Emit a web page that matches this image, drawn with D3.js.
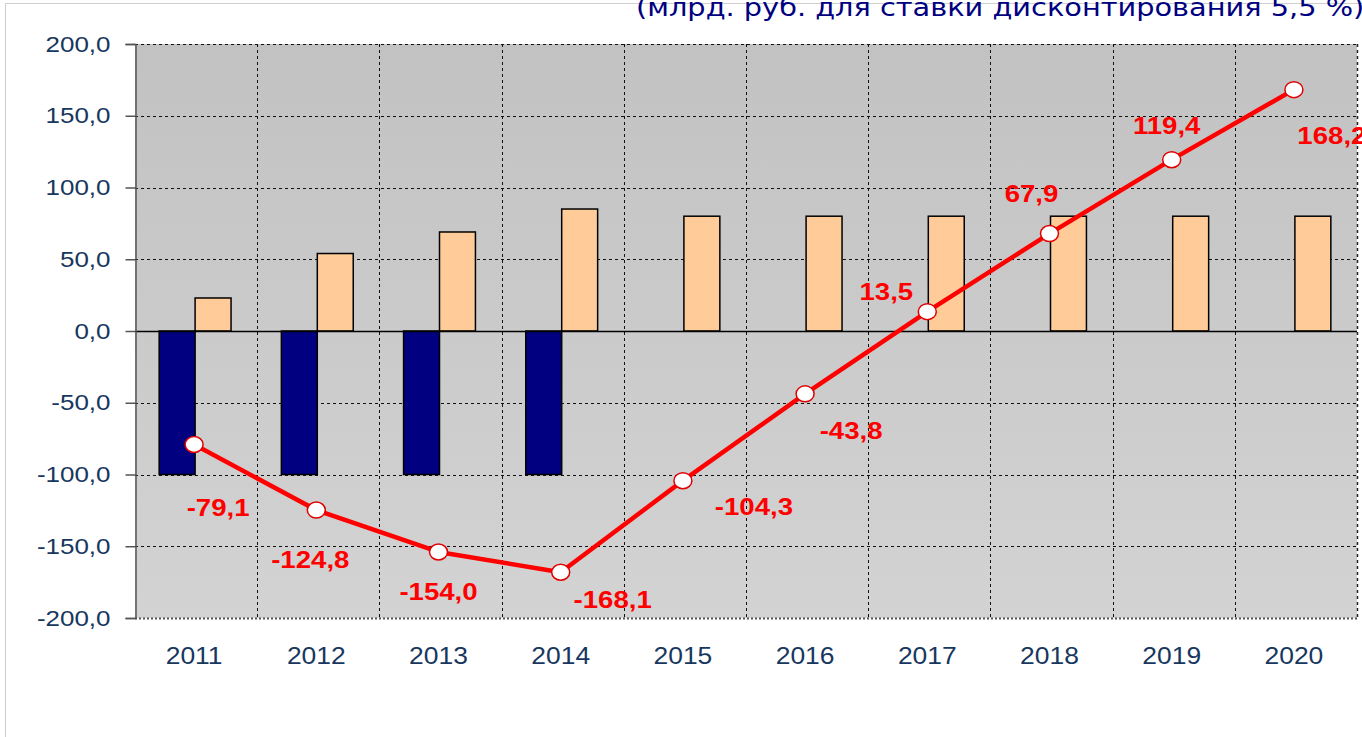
<!DOCTYPE html>
<html>
<head>
<meta charset="utf-8">
<script src="https://cdn.jsdelivr.net/npm/d3@7/dist/d3.min.js"></script>
<style>
  html, body { margin: 0; padding: 0; background: #fff; }
  svg { display: block; }
</style>
</head>
<body>
<svg id="chart" width="1362" height="737"></svg>
<script>
// Years on the category axis
const years = ["2011", "2012", "2013", "2014", "2015", "2016", "2017", "2018", "2019", "2020"];
// Negative bars (investment outflow), bn rub.
const outflow = [-100, -100, -100, -100, null, null, null, null, null, null];
// Positive bars (annual effect), bn rub.
const inflow = [23, 54, 69, 85, 80, 80, 80, 80, 80, 80];
// Cumulative discounted result, bn rub.
const cumulative = [-79.1, -124.8, -154.0, -168.1, -104.3, -43.8, 13.5, 67.9, 119.4, 168.2];
// Value axis ticks
const yTicks = [200, 150, 100, 50, 0, -50, -100, -150, -200];
const subtitle = "(млрд. руб. для ставки дисконтирования 5,5 %)";

// Placement of each value label relative to its marker [dx, dy]
const labelOffsets = [[24, 63], [-6, 50], [0, 40], [52, 28], [71, 26], [46, 37], [-41, -20], [-18, -40], [-5, -34], [38, 46]];

const fmt = v => d3.format(".1f")(v).replace(".", ",").replace("−", "-");

// Widen glyphs horizontally around each text's own anchor point
function widen(sel, sx) {
  sel.each(function () {
    const t = d3.select(this);
    const tx = +t.attr("x") || 0, ty = +t.attr("y") || 0;
    t.attr("x", 0).attr("y", 0).attr("transform", `translate(${tx},${ty}) scale(${sx},1)`);
  });
}

const svg = d3.select("#chart");
const W = 1362, H = 737;
const plot = { left: 135, right: 1357, top: 44, bottom: 618 };

const x = d3.scaleBand().domain(years).range([plot.left, plot.right]);
const y = d3.scaleLinear().domain([-200, 200]).range([plot.bottom, plot.top]);
const inner = d3.scaleBand().domain(["out", "in"]).range([0, x.bandwidth()]).paddingInner(0).paddingOuter(0.7);

// Outer frame lines
svg.append("line").attr("x1", 5.5).attr("x2", 5.5).attr("y1", 3).attr("y2", H).attr("stroke", "#cfcfcf").attr("stroke-width", 1);
svg.append("line").attr("x1", 5).attr("x2", W).attr("y1", 3.5).attr("y2", 3.5).attr("stroke", "#cfcfcf").attr("stroke-width", 1);

// Subtitle
svg.append("text")
  .attr("x", 636).attr("y", 16)
  .attr("font-family", "Verdana, 'DejaVu Sans', sans-serif")
  .attr("font-size", 24)
  .attr("fill", "#000080")
  .text(subtitle)
  .call(widen, 1.2);

// Plot background gradient
const defs = svg.append("defs");
const grad = defs.append("linearGradient").attr("id", "bg").attr("x1", 0).attr("y1", 0).attr("x2", 0).attr("y2", 1);
grad.append("stop").attr("offset", "0%").attr("stop-color", "#c2c2c2");
grad.append("stop").attr("offset", "100%").attr("stop-color", "#d3d3d3");

svg.append("rect")
  .attr("x", plot.left).attr("y", plot.top)
  .attr("width", plot.right - plot.left).attr("height", plot.bottom - plot.top)
  .attr("fill", "url(#bg)");

// Horizontal grid
svg.append("g").selectAll("line")
  .data(yTicks.filter(d => d !== 0 && d !== -200))
  .join("line")
  .attr("x1", plot.left).attr("x2", plot.right)
  .attr("y1", d => Math.round(y(d)) + 0.5).attr("y2", d => Math.round(y(d)) + 0.5)
  .attr("stroke", "#111").attr("stroke-width", 1).attr("stroke-dasharray", "3,3");

// Vertical grid at category boundaries
svg.append("g").selectAll("line")
  .data(years.slice(1))
  .join("line")
  .attr("x1", d => Math.round(x(d)) + 0.5).attr("x2", d => Math.round(x(d)) + 0.5)
  .attr("y1", plot.top).attr("y2", plot.bottom)
  .attr("stroke", "#111").attr("stroke-width", 1).attr("stroke-dasharray", "3,3");

// Right and bottom borders
svg.append("line")
  .attr("x1", plot.right + 0.5).attr("x2", plot.right + 0.5).attr("y1", plot.top).attr("y2", plot.bottom)
  .attr("stroke", "#222").attr("stroke-width", 1.5).attr("stroke-dasharray", "3,3");
svg.append("line")
  .attr("x1", plot.left).attr("x2", plot.right).attr("y1", plot.bottom + 0.5).attr("y2", plot.bottom + 0.5)
  .attr("stroke", "#555").attr("stroke-width", 2).attr("stroke-dasharray", "2,2");

// Bars
const barG = svg.append("g");
barG.selectAll("rect.out")
  .data(years.map((yr, i) => ({ yr, v: outflow[i] })).filter(d => d.v !== null))
  .join("rect")
  .attr("class", "out")
  .attr("x", d => x(d.yr) + inner("out") - 1)
  .attr("width", inner.bandwidth())
  .attr("y", d => y(Math.max(0, d.v)))
  .attr("height", d => Math.abs(y(d.v) - y(0)))
  .attr("fill", "#000080").attr("stroke", "#000").attr("stroke-width", 1.5);

barG.selectAll("rect.in")
  .data(years.map((yr, i) => ({ yr, v: inflow[i] })))
  .join("rect")
  .attr("class", "in")
  .attr("x", d => x(d.yr) + inner("in") - 1)
  .attr("width", inner.bandwidth())
  .attr("y", d => y(Math.max(0, d.v)))
  .attr("height", d => Math.abs(y(d.v) - y(0)))
  .attr("fill", "#ffcc99").attr("stroke", "#000").attr("stroke-width", 1.5);

// Zero line
svg.append("line")
  .attr("x1", plot.left).attr("x2", plot.right)
  .attr("y1", Math.round(y(0)) + 0.5).attr("y2", Math.round(y(0)) + 0.5)
  .attr("stroke", "#000").attr("stroke-width", 1.5);

// Left axis
const yAxis = d3.axisLeft(y).tickValues(yTicks).tickSize(10).tickPadding(15).tickFormat(fmt);
const ya = svg.append("g").attr("transform", `translate(${plot.left + 0.5},0)`).call(yAxis);
ya.select(".domain").attr("stroke", "#555").attr("stroke-width", 1.5);
ya.selectAll(".tick line").attr("stroke", "#555").attr("stroke-width", 1.5);
ya.selectAll(".tick text")
  .attr("font-family", "Arial, 'Liberation Sans', sans-serif")
  .attr("font-size", 22).attr("fill", "#17375e")
  .call(widen, 1.18);

// Category axis labels
const xAxis = d3.axisBottom(x).tickSize(0).tickPadding(30);
const xa = svg.append("g").attr("transform", `translate(-2,${plot.bottom})`).call(xAxis);
xa.select(".domain").remove();
xa.selectAll(".tick text")
  .attr("font-family", "Arial, 'Liberation Sans', sans-serif")
  .attr("font-size", 23).attr("fill", "#17375e")
  .call(widen, 1.15);

// Cumulative line
const cx = i => x(years[i]) + x.bandwidth() / 2 - 2;
const line = d3.line().x((d, i) => cx(i)).y(d => y(d));
svg.append("path")
  .datum(cumulative)
  .attr("d", line)
  .attr("fill", "none").attr("stroke", "#ff0000").attr("stroke-width", 4.5).attr("stroke-linejoin", "round");

svg.append("g").selectAll("ellipse")
  .data(cumulative)
  .join("ellipse")
  .attr("cx", (d, i) => cx(i)).attr("cy", d => y(d))
  .attr("rx", 9).attr("ry", 8)
  .attr("fill", "#fff").attr("stroke", "#e00000").attr("stroke-width", 1.5);

// Value labels
svg.append("g").selectAll("text")
  .data(cumulative)
  .join("text")
  .attr("x", (d, i) => cx(i) + labelOffsets[i][0])
  .attr("y", (d, i) => y(d) + labelOffsets[i][1] + 8)
  .attr("text-anchor", "middle")
  .attr("font-family", "Arial, 'Liberation Sans', sans-serif")
  .attr("font-weight", "bold")
  .attr("font-size", 24)
  .attr("fill", "#ff0000")
  .text(d => fmt(d))
  .call(widen, 1.15);
</script>
</body>
</html>
